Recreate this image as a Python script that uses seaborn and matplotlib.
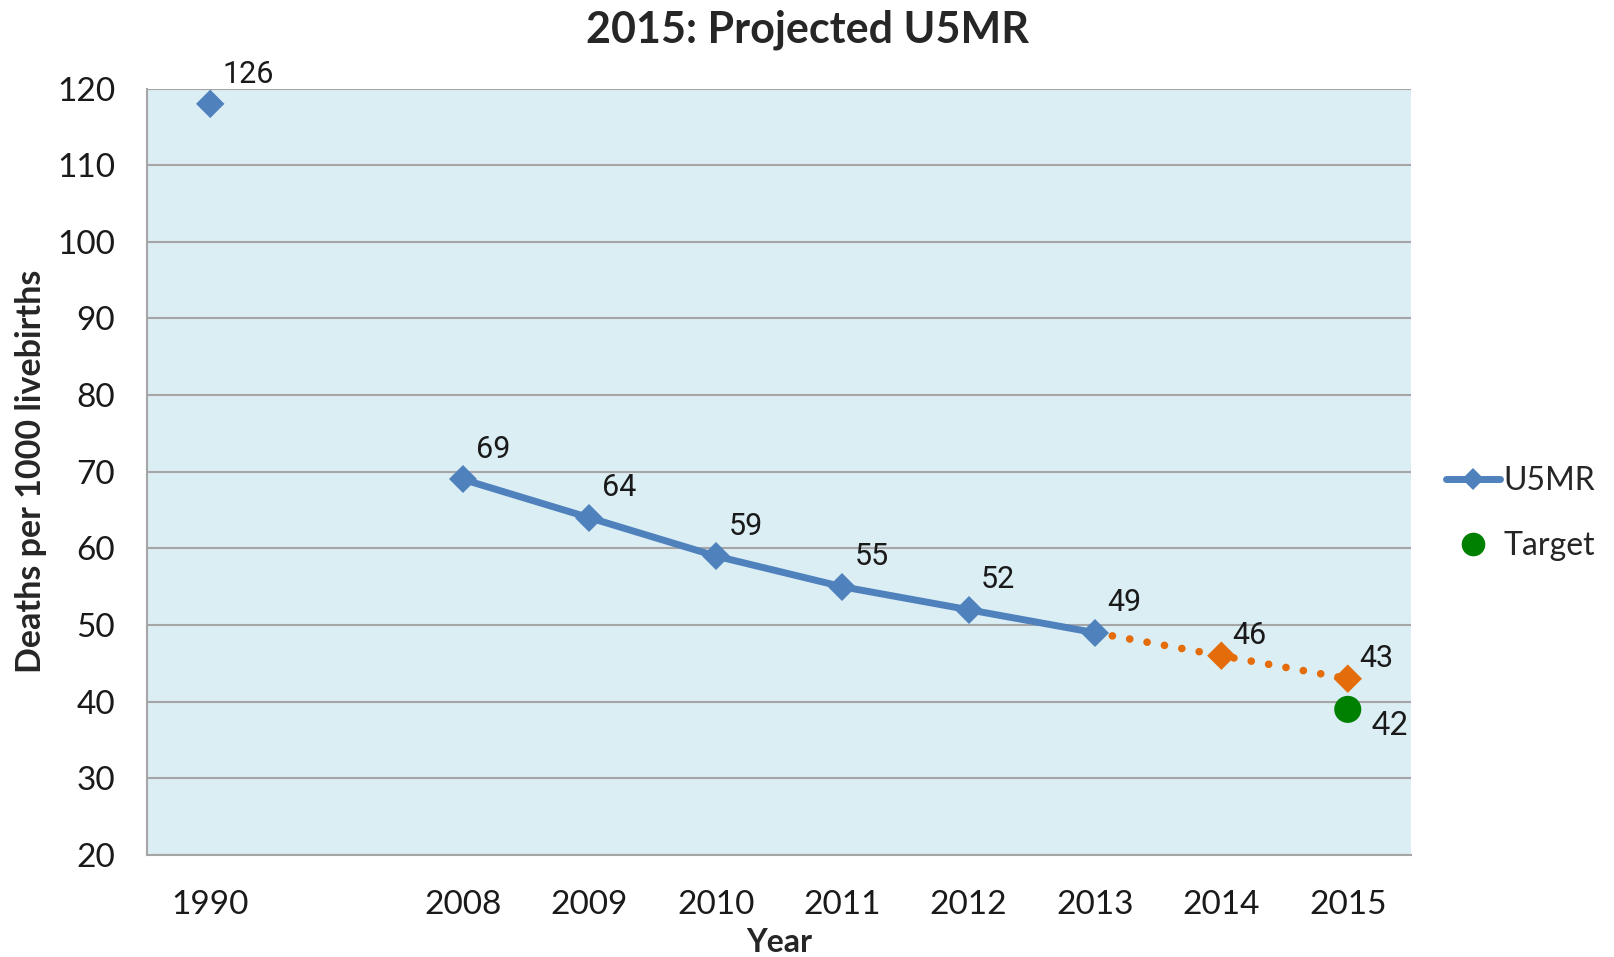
import matplotlib.pyplot as plt
import pandas as pd
import seaborn as sns
from matplotlib.lines import Line2D

# Categories on the x axis (slot 1 is an empty gap)
categories = ['1990', '', '2008', '2009', '2010', '2011', '2012', '2013', '2014', '2015']

# Observed U5MR
obs_years = ['1990', '2008', '2009', '2010', '2011', '2012', '2013']
obs_values = [118, 69, 64, 59, 55, 52, 49]
obs_labels = ['126', '69', '64', '59', '55', '52', '49']

# Projection
proj_years = ['2013', '2014', '2015']
proj_values = [49, 46, 43]
proj_labels = ['', '46', '43']

# Target
target_year = ['2015']
target_value = [39]
target_label = ['42']

BLUE = '#4F81BD'
ORANGE = '#E46C0A'
GREEN = '#008000'
GRID = '#A6A6A6'

sns.set_style('white')
plt.rcParams['font.family'] = ['Lato', 'DejaVu Sans']

pos = {c: i for i, c in enumerate(categories)}
df_obs = pd.DataFrame({'x': [pos[y] for y in obs_years], 'value': obs_values})
df_proj = pd.DataFrame({'x': [pos[y] for y in proj_years], 'value': proj_values})
df_tgt = pd.DataFrame({'x': [pos[y] for y in target_year], 'value': target_value})

fig = plt.figure(figsize=(16.14, 9.57), dpi=100)
ax = fig.add_axes([0.0911, 0.1066, 0.7831, 0.8009])
ax.set_facecolor('#DBEEF4')

# projection dotted line
sns.lineplot(data=df_proj, x='x', y='value', ax=ax, color=ORANGE, linewidth=5.5,
             linestyle=(0, (0.01, 2.3)), dash_capstyle='round', zorder=2)
sns.scatterplot(data=df_proj.iloc[1:], x='x', y='value', ax=ax, color=ORANGE,
                marker='D', s=210, edgecolor='none', zorder=3)

# observed line (1990 not connected)
sns.lineplot(data=df_obs.iloc[1:], x='x', y='value', ax=ax, color=BLUE, linewidth=5,
             marker='D', markersize=14.5, markeredgewidth=0, zorder=4)
sns.scatterplot(data=df_obs.iloc[:1], x='x', y='value', ax=ax, color=BLUE,
                marker='D', s=210, edgecolor='none', zorder=4)

# target
sns.scatterplot(data=df_tgt, x='x', y='value', ax=ax, color=GREEN, marker='o',
                s=380, edgecolor='none', zorder=5)

# data labels
lab_font = dict(family=['Roboto', 'DejaVu Sans'], fontsize=22, color='#1a1a1a')
for x, v, t in zip(df_obs['x'], df_obs['value'], obs_labels):
    ax.annotate(t, (x, v), xytext=(9, 11), textcoords='offset points', ha='left', va='bottom', **lab_font)
for x, v, t in zip(df_proj['x'], df_proj['value'], proj_labels):
    if t:
        ax.annotate(t, (x, v), xytext=(8, 4), textcoords='offset points', ha='left', va='bottom', **lab_font)
for x, v, t in zip(df_tgt['x'], df_tgt['value'], target_label):
    ax.annotate(t, (x, v), xytext=(17, -1), textcoords='offset points', ha='left', va='top',
                fontsize=23, color='#1a1a1a')

ax.set_xlim(-0.5, len(categories) - 0.5)
ax.set_ylim(20, 120)
ax.set_yticks(range(20, 121, 10))
ax.set_xticks(range(len(categories)))
ax.set_xticklabels(categories)
ax.set_xticks([i - 0.5 for i in range(len(categories) + 1)], minor=True)
ax.tick_params(axis='x', which='major', length=0, pad=25, labelsize=24, labelcolor='#1a1a1a')
ax.tick_params(axis='x', which='minor', length=11, width=1.5, color=GRID, direction='out')
ax.tick_params(axis='y', length=11, width=1.5, color=GRID, direction='out', pad=12,
               labelsize=24, labelcolor='#1a1a1a')
ax.yaxis.grid(True, color=GRID, linewidth=1.5)
ax.set_axisbelow(True)
for s in ['top', 'right']:
    ax.spines[s].set_visible(False)
for s in ['left', 'bottom']:
    ax.spines[s].set_color(GRID)
    ax.spines[s].set_linewidth(1.5)

ax.set_xlabel('Year', fontsize=23, fontweight='bold', labelpad=6)
ax.set_ylabel('Deaths per 1000 livebirths', fontsize=24.5, fontweight='bold', labelpad=7)
fig.suptitle('2015: Projected U5MR', fontsize=31, fontweight='bold', y=0.99, va='top')

handles = [Line2D([], [], color=BLUE, linewidth=5, marker='D', markersize=11, markeredgewidth=0),
           Line2D([], [], color=GREEN, linestyle='none', marker='o', markersize=16)]
fig.legend(handles, ['U5MR', 'Target'], loc='center left', bbox_to_anchor=(0.886, 0.4634),
           frameon=False, fontsize=23, handlelength=1.7, handletextpad=0.1, labelspacing=1.1,
           borderpad=0)

fig.savefig('out.png', dpi=100)
